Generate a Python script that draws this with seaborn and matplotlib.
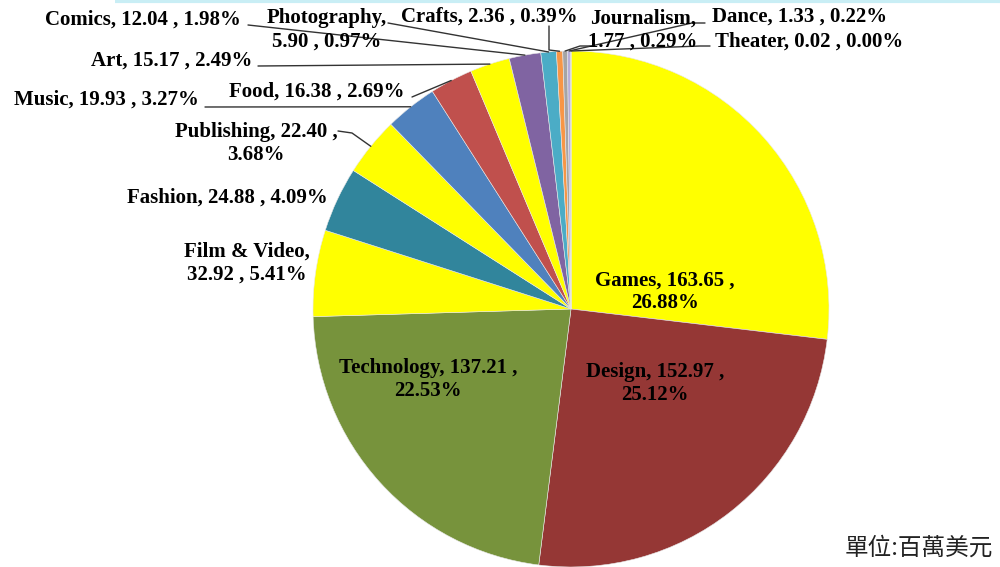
import numpy as np
import matplotlib
matplotlib.use("Agg")
import matplotlib.pyplot as plt
import seaborn as sns

categories = ["Games", "Design", "Technology", "Film & Video", "Fashion", "Publishing",
              "Music", "Food", "Art", "Comics", "Photography", "Crafts",
              "Journalism", "Dance", "Theater"]
values = [163.65, 152.97, 137.21, 32.92, 24.88, 22.40, 19.93, 16.38, 15.17, 12.04,
          5.90, 2.36, 1.77, 1.33, 0.02]
percents = [26.88, 25.12, 22.53, 5.41, 4.09, 3.68, 3.27, 2.69, 2.49, 1.98,
            0.97, 0.39, 0.29, 0.22, 0.00]
colors = ["#FFFF00", "#953735", "#77933C", "#FFFF00", "#31859C", "#FFFF00",
          "#4F81BD", "#C0504D", "#FFFF00", "#8064A2", "#4BACC6", "#F79646",
          "#A5A5A5", "#B7AEDB", "#93CDDD"]
unit_text = "單位:百萬美元"

sns.set_theme(style="white")
plt.rcParams["font.family"] = ["Liberation Serif", "DejaVu Serif"]

W, H = 1000, 567
fig = plt.figure(figsize=(10, 5.67), dpi=100)
ax = fig.add_axes([0, 0, 1, 1])

def P(x, y):
    return (x, H - y)

cx, cy = P(571, 309)
R = 258
wedges, _ = ax.pie(values, colors=colors, startangle=90, counterclock=False,
                   center=(cx, cy), radius=R, frame=True,
                   wedgeprops=dict(linewidth=0.4, edgecolor="#e8e8e8"))
ax.set_xlim(0, W)
ax.set_ylim(0, H)
ax.set_aspect("equal")
ax.axis("off")

# top light border
ax.plot([115, W], [H - 1, H - 1], color="#c9eef5", lw=3, solid_capstyle="butt")

def lab(i, style):
    n, v, p = categories[i], values[i], percents[i]
    if style == "one":
        return f"{n}, {v:.2f} , {p:.2f}%"
    if style == "two":
        return f"{n}, {v:.2f} ,\n{p:.2f}%"
    if style == "name":
        return f"{n},\n{v:.2f} , {p:.2f}%"

fs = 15
kw = dict(ha="center", va="center", fontsize=fs, fontweight="bold", color="black",
          linespacing=1.2)

# label placement: (index, style, pixel center x, pixel center y)
placements = [
    (0, "two", 665, 292),
    (1, "two", 655, 384),
    (2, "two", 428, 380),
    (3, "name", 247, 263),
    (4, "one", 227, 198),
    (5, "two", 256, 143),
    (6, "one", 106, 100),
    (7, "one", 317, 92),
    (8, "one", 172, 61),
    (9, "one", 143, 20),
    (10, "name", 327, 30),
    (11, "one", 489, 17),
    (12, "name", 643, 30),
    (13, "one", 800, 17),
    (14, "one", 809, 42),
]
for i, style, x, y in placements:
    ax.text(*P(x, y), lab(i, style), **kw)

def edge(i):
    w = wedges[i]
    th = np.deg2rad((w.theta1 + w.theta2) / 2)
    return cx + R * np.cos(th), cy + R * np.sin(th)

# leader lines: (index, list of pixel points from label)
leaders = [
    (5, [(338, 131), (352, 133)]),
    (6, [(205, 107)]),
    (7, [(412, 97)]),
    (8, [(258, 66)]),
    (9, [(248, 25)]),
    (10, [(388, 23)]),
    (11, [(549, 26), (549, 50)]),
    (12, [(592, 46), (580, 46)]),
    (13, [(705, 23), (692, 23)]),
    (14, [(710, 46), (700, 46)]),
]
for i, pts in leaders:
    xs = [P(px, py)[0] for px, py in pts]
    ys = [P(px, py)[1] for px, py in pts]
    ex, ey = edge(i)
    xs.append(ex)
    ys.append(ey)
    ax.plot(xs, ys, color="#333333", lw=1.0)

ax.text(*P(919, 548), unit_text, ha="center", va="center", fontsize=17,
        family=["Noto Sans CJK TC", "DejaVu Sans"], color="#222222")

fig.savefig("out.png", dpi=100, facecolor="white")
